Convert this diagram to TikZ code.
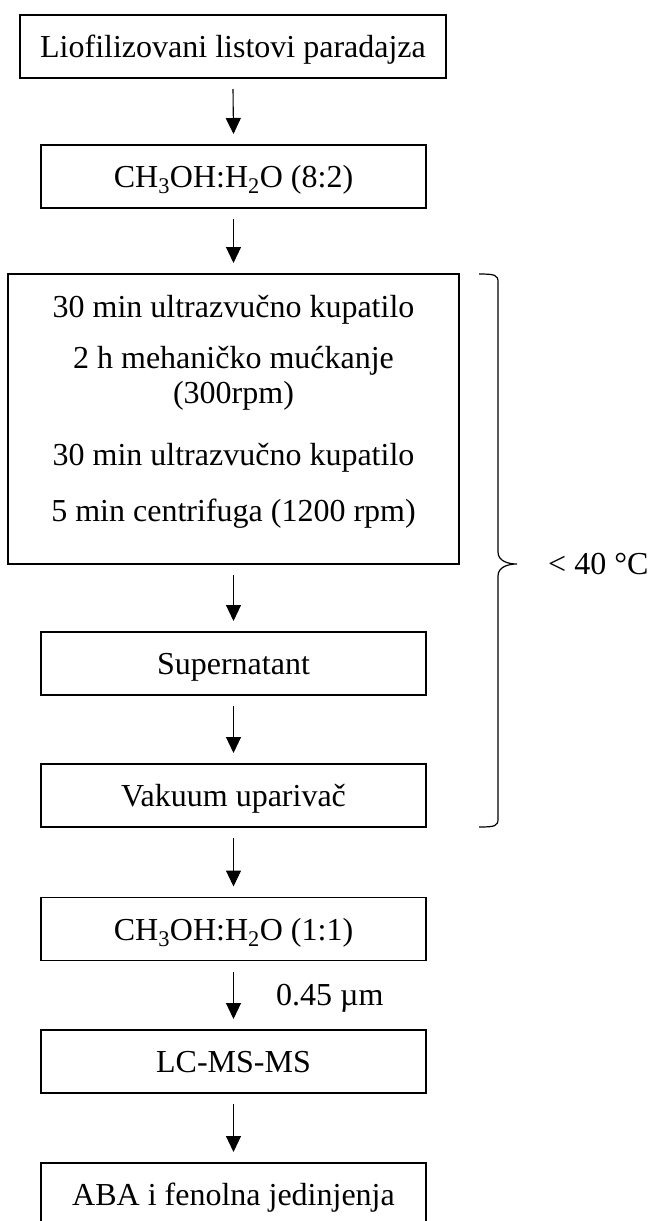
\documentclass[tikz,border=0pt]{standalone}
\usepackage{fontspec}
\setmainfont{Liberation Serif}
\usetikzlibrary{arrows.meta}
\newcommand{\fs}{\fontsize{32}{37}\selectfont}
\begin{document}
\begin{tikzpicture}[x=1pt,y=-1pt,
  box/.style={draw, line width=1.4pt, inner sep=0pt, outer sep=0pt,
    minimum height=63pt, text height=22pt, text depth=0pt, font=\fs},
  wide/.style={minimum width=426pt},
  narrow/.style={minimum width=385pt},
  arr/.style={line width=1.1pt, -{Triangle[width=15pt,length=16pt]}},
  lbl/.style={inner sep=0pt, anchor=base, font=\fs},
  brace/.style={line width=1.2pt}]
\useasboundingbox (0,0) rectangle (648,1221);

\node[box, wide]   (b1) at (233,46.5)   {Liofilizovani listovi paradajza};
\node[box, narrow] (b2) at (233.5,176.5) {CH\textsubscript{3}OH:H\textsubscript{2}O (8:2)};
\node[box, minimum width=451pt, minimum height=290pt] (b3) at (233.5,419) {};
\node[lbl] (l1) at (233.5,317) {30 min ultrazvučno kupatilo};
\node[lbl] (l2) at (233.5,368) {2 h mehaničko mućkanje};
\node[lbl] (l3) at (233.5,403) {(300rpm)};
\node[lbl] (l4) at (233.5,465) {30 min ultrazvučno kupatilo};
\node[lbl] (l5) at (233.5,521) {5 min centrifuga (1200 rpm)};
\node[box, narrow] (b4) at (233.5,663.5)  {Supernatant};
\node[box, narrow] (b5) at (233.5,795.5)  {Vakuum uparivač};
\node[box, narrow] (b6) at (233.5,929)    {CH\textsubscript{3}OH:H\textsubscript{2}O (1:1)};
\node[box, narrow] (b7) at (233.5,1061.5) {LC-MS-MS};
\node[box, narrow] (b8) at (233.5,1194.5) {ABA i fenolna jedinjenja};

\draw[arr] ([yshift=-11pt]b1.south) -- ([yshift=11pt]b2.north);
\draw[arr] ([yshift=-11pt]b2.south) -- ([yshift=11pt]b3.north);
\draw[arr] ([yshift=-11pt]b3.south) -- ([yshift=11pt]b4.north);
\draw[arr] ([yshift=-11pt]b4.south) -- ([yshift=11pt]b5.north);
\draw[arr] ([yshift=-11pt]b5.south) -- ([yshift=11pt]b6.north);
\draw[arr] ([yshift=-11pt]b6.south) -- ([yshift=11pt]b7.north);
\draw[arr] ([yshift=-11pt]b7.south) -- ([yshift=11pt]b8.north);

\node[lbl, anchor=base west] (f) at (276,1005) {0.45 µm};

\draw[brace] (479,274) .. controls (495,274) and (498,275) .. (498,282)
  -- (498,552) .. controls (498,561) and (508,564) .. (517,564)
  .. controls (508,564) and (498,567) .. (498,576)
  -- (498,819) .. controls (498,826) and (495,827) .. (479,827);
\node[lbl, anchor=base west] (t) at (548,574) {< 40 °C};
\end{tikzpicture}
\end{document}
